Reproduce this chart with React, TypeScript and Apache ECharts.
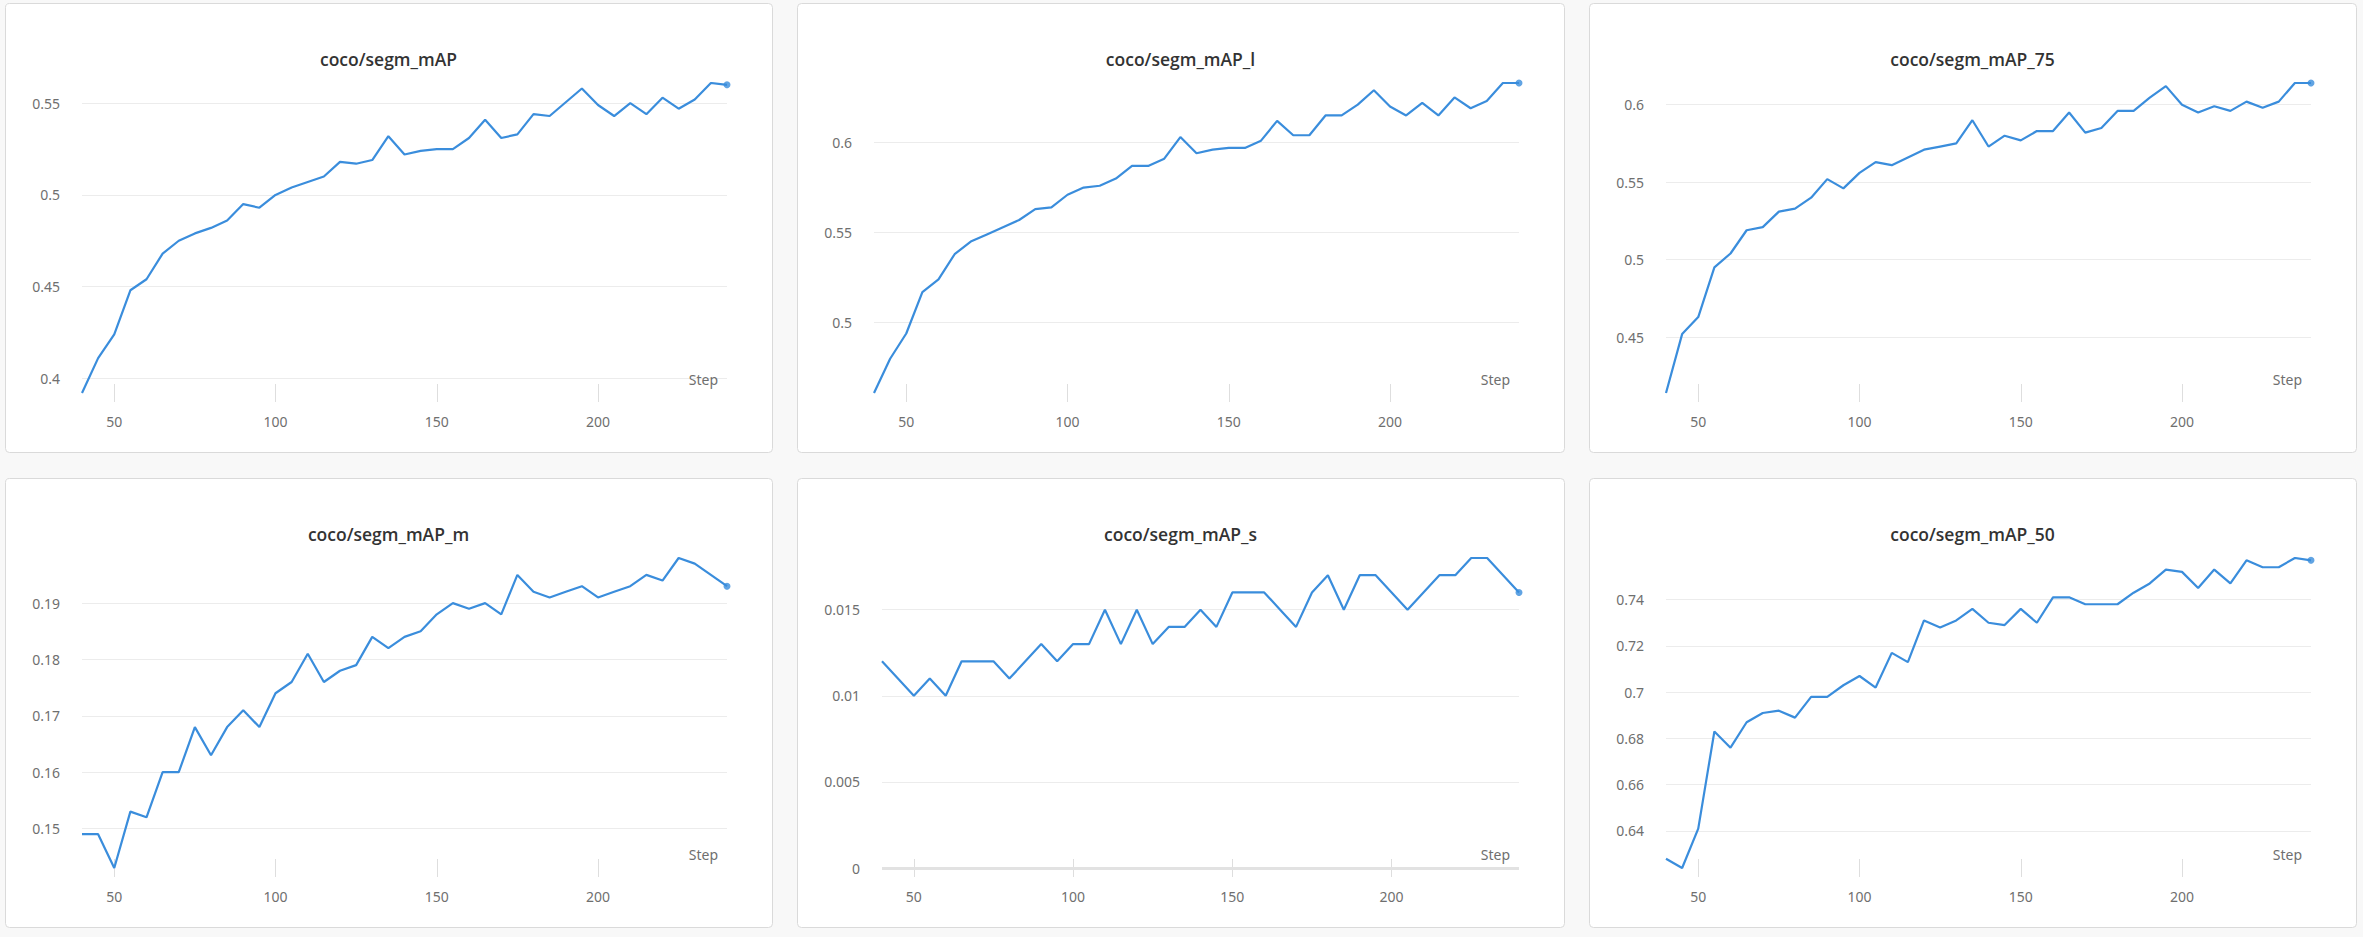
import React, { useEffect, useRef } from "react";
import * as echarts from "echarts";

const steps = [40, 45, 50, 55, 60, 65, 70, 75, 80, 85, 90, 95, 100, 105, 110, 115, 120, 125, 130, 135, 140, 145, 150, 155, 160, 165, 170, 175, 180, 185, 190, 195, 200, 205, 210, 215, 220, 225, 230, 235, 240];

const segmMAP = [0.392, 0.411, 0.424, 0.448, 0.454, 0.468, 0.475, 0.479, 0.482, 0.486, 0.495, 0.493, 0.5, 0.504, 0.507, 0.51, 0.518, 0.517, 0.519, 0.532, 0.522, 0.524, 0.525, 0.525, 0.531, 0.541, 0.531, 0.533, 0.544, 0.543, 0.5505, 0.558, 0.549, 0.543, 0.55, 0.544, 0.553, 0.547, 0.552, 0.561, 0.56];
const segmMAP_l = [0.461, 0.48, 0.494, 0.517, 0.524, 0.538, 0.545, 0.549, 0.553, 0.557, 0.563, 0.564, 0.571, 0.575, 0.576, 0.58, 0.587, 0.587, 0.591, 0.603, 0.594, 0.596, 0.597, 0.597, 0.601, 0.612, 0.604, 0.604, 0.615, 0.615, 0.621, 0.629, 0.62, 0.615, 0.622, 0.615, 0.625, 0.619, 0.623, 0.633, 0.633];
const segmMAP_75 = [0.414, 0.452, 0.463, 0.495, 0.504, 0.519, 0.521, 0.531, 0.533, 0.54, 0.552, 0.546, 0.556, 0.563, 0.561, 0.566, 0.571, 0.573, 0.575, 0.59, 0.573, 0.58, 0.577, 0.583, 0.583, 0.595, 0.582, 0.585, 0.596, 0.596, 0.6045, 0.612, 0.6, 0.595, 0.599, 0.596, 0.602, 0.598, 0.602, 0.614, 0.614];
const segmMAP_m = [0.149, 0.149, 0.143, 0.153, 0.152, 0.16, 0.16, 0.168, 0.163, 0.168, 0.171, 0.168, 0.174, 0.176, 0.181, 0.176, 0.178, 0.179, 0.184, 0.182, 0.184, 0.185, 0.188, 0.19, 0.189, 0.19, 0.188, 0.195, 0.192, 0.191, 0.192, 0.193, 0.191, 0.192, 0.193, 0.195, 0.194, 0.198, 0.197, 0.195, 0.193];
const segmMAP_s = [0.012, 0.011, 0.01, 0.011, 0.01, 0.012, 0.012, 0.012, 0.011, 0.012, 0.013, 0.012, 0.013, 0.013, 0.015, 0.013, 0.015, 0.013, 0.014, 0.014, 0.015, 0.014, 0.016, 0.016, 0.016, 0.015, 0.014, 0.016, 0.017, 0.015, 0.017, 0.017, 0.016, 0.015, 0.016, 0.017, 0.017, 0.018, 0.018, 0.017, 0.016];
const segmMAP_50 = [0.628, 0.624, 0.641, 0.683, 0.676, 0.687, 0.691, 0.692, 0.689, 0.698, 0.698, 0.703, 0.707, 0.702, 0.717, 0.713, 0.731, 0.728, 0.731, 0.736, 0.73, 0.729, 0.736, 0.73, 0.741, 0.741, 0.738, 0.738, 0.738, 0.743, 0.747, 0.753, 0.752, 0.745, 0.753, 0.747, 0.757, 0.754, 0.754, 0.758, 0.757];

const xTicks = [50, 100, 150, 200];
const yTicksMAP = [0.4, 0.45, 0.5, 0.55];
const yTicksMAP_l = [0.5, 0.55, 0.6];
const yTicksMAP_75 = [0.45, 0.5, 0.55, 0.6];
const yTicksMAP_m = [0.15, 0.16, 0.17, 0.18, 0.19];
const yTicksMAP_s = [0, 0.005, 0.01, 0.015];
const yTicksMAP_50 = [0.64, 0.66, 0.68, 0.7, 0.72, 0.74];

const titles = ["coco/segm_mAP", "coco/segm_mAP_l", "coco/segm_mAP_75", "coco/segm_mAP_m", "coco/segm_mAP_s", "coco/segm_mAP_50"];
const xName = "Step";

const W = 2363;
const H = 937;
const PANEL_XS = [5, 797, 1589];
const PANEL_YS = [3, 478];
const PANEL_W = 767;
const PANEL_H = 449;
const LINE_COLOR = "#3a8ddc";
const LABEL_COLOR = "#6f6f6f";
const FONT = "'Noto Sans', sans-serif";
const TITLE_FONT = "'Open Sans', 'Noto Sans', sans-serif";

export default function App() {
  const ref = useRef<HTMLDivElement>(null);

  useEffect(() => {
    const chart = echarts.init(ref.current!, null, { renderer: "svg" });
    const panels = [
      { title: titles[0], data: segmMAP, yTicks: yTicksMAP, min: "dataMin" as any, left: 77 },
      { title: titles[1], data: segmMAP_l, yTicks: yTicksMAP_l, min: "dataMin" as any, left: 77 },
      { title: titles[2], data: segmMAP_75, yTicks: yTicksMAP_75, min: "dataMin" as any, left: 77 },
      { title: titles[3], data: segmMAP_m, yTicks: yTicksMAP_m, min: "dataMin" as any, left: 77 },
      { title: titles[4], data: segmMAP_s, yTicks: yTicksMAP_s, min: 0 as any, left: 85, zeroLine: true },
      { title: titles[5], data: segmMAP_50, yTicks: yTicksMAP_50, min: "dataMin" as any, left: 77 },
    ];

    const grid: any[] = [];
    const xAxis: any[] = [];
    const yAxis: any[] = [];
    const series: any[] = [];
    const graphics: any[] = [];

    panels.forEach((p: any, i) => {
      const c = i % 3;
      const r = Math.floor(i / 3);
      const px = PANEL_XS[c];
      const py = PANEL_YS[r];
      graphics.push({
        type: "rect",
        z: -10,
        shape: { x: px + 0.5, y: py + 0.5, width: PANEL_W, height: PANEL_H, r: 4 },
        style: { fill: "#ffffff", stroke: "#dadada", lineWidth: 1 },
        silent: true,
      });
      graphics.push({
        type: "text",
        x: px + PANEL_W / 2,
        y: py + 56,
        style: {
          text: p.title,
          align: "center",
          verticalAlign: "middle",
          fill: "#333333",
          font: `600 17.5px ${TITLE_FONT}`,
        },
        silent: true,
      });
      grid.push({ left: px + p.left, top: py + 80, width: 722 - p.left, height: 310 });
      xAxis.push({
        type: "value",
        gridIndex: i,
        min: 40,
        max: 240,
        offset: -9,
        axisLine: { show: false, onZero: false },
        axisTick: { show: true, length: 18, customValues: xTicks, lineStyle: { color: "#dedede", width: 1 } },
        axisLabel: { customValues: xTicks, margin: 30, color: LABEL_COLOR, fontSize: 14, fontFamily: FONT },
        splitLine: { show: false },
        name: xName,
        nameLocation: "end",
        nameGap: -9,
        nameTextStyle: { align: "right", verticalAlign: "bottom", lineHeight: 10, color: LABEL_COLOR, fontSize: 14, fontFamily: FONT },
      });
      yAxis.push({
        type: "value",
        gridIndex: i,
        min: p.min,
        max: "dataMax",
        axisLine: { show: false },
        axisTick: { show: false, customValues: p.yTicks },
        axisLabel: { customValues: p.yTicks, margin: 22, color: LABEL_COLOR, fontSize: 14, fontFamily: FONT },
        splitLine: { show: true, lineStyle: { color: "#ececec", width: 1 } },
      });
      const pts = steps.map((s, k) => [s, p.data[k]]);
      const lineSeries: any = {
        type: "line",
        xAxisIndex: i,
        yAxisIndex: i,
        data: pts,
        showSymbol: false,
        lineStyle: { color: LINE_COLOR, width: 2.2 },
        itemStyle: { color: LINE_COLOR },
        z: 3,
      };
      if (p.zeroLine) {
        lineSeries.markLine = {
          silent: true,
          symbol: "none",
          label: { show: false },
          lineStyle: { color: "#e2e2e2", width: 3, type: "solid" },
          data: [{ yAxis: 0 }],
          z: 1,
        };
      }
      series.push(lineSeries);
      series.push({
        type: "scatter",
        xAxisIndex: i,
        yAxisIndex: i,
        data: [pts[pts.length - 1]],
        symbol: "circle",
        symbolSize: 7,
        itemStyle: { color: LINE_COLOR },
        z: 4,
      });
    });

    chart.setOption({
      animation: false,
      backgroundColor: "transparent",
      grid,
      xAxis,
      yAxis,
      series,
      graphic: { elements: graphics },
    });
    return () => chart.dispose();
  }, []);

  return (
    <div style={{ position: "absolute", left: 0, top: 0, width: W, height: H, background: "#f8f8f8" }}>
      <div ref={ref} style={{ width: W, height: H }} />
    </div>
  );
}
